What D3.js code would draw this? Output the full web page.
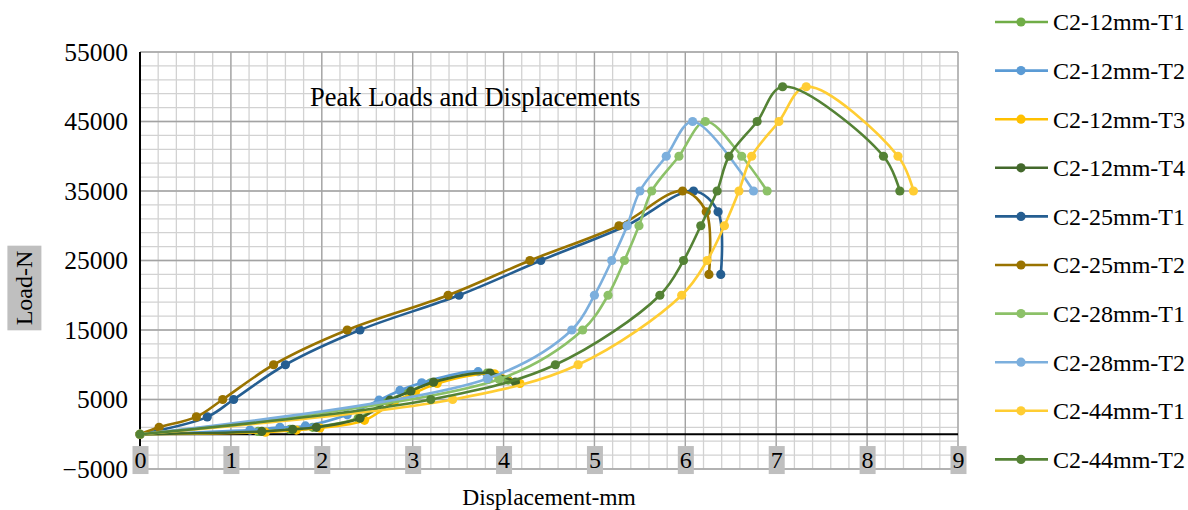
<!DOCTYPE html>
<html>
<head>
<meta charset="utf-8">
<script src="https://cdn.jsdelivr.net/npm/d3@7"></script>
<style>
  html, body { margin: 0; padding: 0; background: #fff; }
  svg { display: block; font-family: "Liberation Serif", "Times New Roman", serif; }
  .axis .domain { display: none; }
  .axis line { display: none; }
</style>
</head>
<body>
<div id="chart"></div>
<script>
// Series names (legend order = draw order)
const seriesNames = [
  'C2-12mm-T1', 'C2-12mm-T2', 'C2-12mm-T3', 'C2-12mm-T4',
  'C2-25mm-T1', 'C2-25mm-T2', 'C2-28mm-T1', 'C2-28mm-T2',
  'C2-44mm-T1', 'C2-44mm-T2'
];
const seriesColors = [
  '#70AD47', '#5B9BD5', '#FFC000', '#43682B',
  '#255E91', '#997300', '#8CC168', '#7CAFDD',
  '#FFCD33', '#548235'
];

// displacement (mm) / load (N)
const disp12T1 = [0, 1.30, 1.65, 1.90, 2.40, 2.72, 2.95, 3.20, 3.82, 4.05];
const load12T1 = [0, 400, 700, 1000, 2300, 4800, 6100, 7400, 8800, 7800];
const disp12T2 = [0, 1.21, 1.54, 1.82, 2.28, 2.63, 2.86, 3.10, 3.72, 3.83];
const load12T2 = [0, 600, 1000, 1200, 2800, 4900, 6300, 7400, 9000, 7900];
const disp12T3 = [0, 1.38, 1.72, 1.98, 2.47, 2.80, 3.03, 3.27, 3.90, 4.18];
const load12T3 = [0, 300, 600, 900, 2000, 4700, 6000, 7300, 8700, 7300];
const disp12T4 = [0, 1.34, 1.68, 1.94, 2.42, 2.75, 2.98, 3.23, 3.85, 4.13];
const load12T4 = [0, 400, 700, 1000, 2300, 4900, 6200, 7500, 8800, 7500];
const disp25T1 = [0, 0.74, 1.03, 1.60, 2.42, 3.51, 4.41, 5.35, 6.09, 6.36, 6.39];
const load25T1 = [0, 2500, 5000, 10000, 15000, 20000, 25000, 30000, 35000, 32000, 23000];
const disp25T2 = [0, 0.21, 0.62, 0.91, 1.47, 2.28, 3.39, 4.29, 5.27, 5.97, 6.23, 6.26];
const load25T2 = [0, 1000, 2500, 5000, 10000, 15000, 20000, 25000, 30000, 35000, 32000, 23000];
const disp28T1 = [0, 3.95, 4.87, 5.15, 5.33, 5.49, 5.63, 5.93, 6.22, 6.62, 6.90];
const load28T1 = [0, 7900, 15000, 20000, 25000, 30000, 35000, 40000, 45000, 40000, 35000];
const disp28T2 = [0, 3.82, 4.75, 5.00, 5.19, 5.36, 5.50, 5.79, 6.08, 6.75];
const load28T2 = [0, 8000, 15000, 20000, 25000, 30000, 35000, 40000, 45000, 35000];
const disp44T1 = [0, 3.44, 4.82, 5.96, 6.24, 6.43, 6.59, 6.73, 7.03, 7.33, 8.34, 8.51];
const load44T1 = [0, 5000, 10000, 20000, 25000, 30000, 35000, 40000, 45000, 50000, 40000, 35000];
const disp44T2 = [0, 3.20, 4.57, 5.72, 5.98, 6.17, 6.35, 6.48, 6.79, 7.07, 8.18, 8.36];
const load44T2 = [0, 5000, 10000, 20000, 25000, 30000, 35000, 40000, 45000, 50000, 40000, 35000];

const xTicks = [0, 1, 2, 3, 4, 5, 6, 7, 8, 9];
const yTicks = [-5000, 5000, 15000, 25000, 35000, 45000, 55000];

const title = 'Peak Loads and Displacements';
const xTitle = 'Displacement-mm';
const yTitle = 'Load-N';

const dispArrays = [disp12T1, disp12T2, disp12T3, disp12T4, disp25T1, disp25T2, disp28T1, disp28T2, disp44T1, disp44T2];
const loadArrays = [load12T1, load12T2, load12T3, load12T4, load25T1, load25T2, load28T1, load28T2, load44T1, load44T2];
const series = seriesNames.map((name, i) => ({
  name,
  color: seriesColors[i],
  points: dispArrays[i].map((d, j) => ({ x: d, y: loadArrays[i][j] }))
}));

const W = 1188, H = 510;
const plot = { left: 140, right: 958, top: 52, bottom: 469 };

const svg = d3.select('#chart').append('svg')
  .attr('width', W).attr('height', H);

const x = d3.scaleLinear().domain([0, 9]).range([plot.left, plot.right]);
const y = d3.scaleLinear().domain([-5000, 55000]).range([plot.bottom, plot.top]);

// minor grid
const minorX = d3.range(0, 9.0001, 0.2);
const minorY = d3.range(-5000, 55001, 2000);
svg.append('g')
  .selectAll('line').data(minorX).enter().append('line')
  .attr('x1', d => x(d)).attr('x2', d => x(d))
  .attr('y1', plot.top).attr('y2', plot.bottom)
  .attr('stroke', '#d2d2d2').attr('stroke-width', 1.3);
svg.append('g')
  .selectAll('line').data(minorY).enter().append('line')
  .attr('x1', plot.left).attr('x2', plot.right)
  .attr('y1', d => y(d)).attr('y2', d => y(d))
  .attr('stroke', '#d2d2d2').attr('stroke-width', 1.3);

// major grid
svg.append('g')
  .selectAll('line').data(xTicks).enter().append('line')
  .attr('x1', d => x(d)).attr('x2', d => x(d))
  .attr('y1', plot.top).attr('y2', plot.bottom)
  .attr('stroke', '#a3a3a3').attr('stroke-width', 1.3);
svg.append('g')
  .selectAll('line').data(yTicks).enter().append('line')
  .attr('x1', plot.left).attr('x2', plot.right)
  .attr('y1', d => y(d)).attr('y2', d => y(d))
  .attr('stroke', '#a3a3a3').attr('stroke-width', 1.3);

// axis lines
svg.append('line')
  .attr('x1', plot.left).attr('x2', plot.left).attr('y1', plot.top).attr('y2', plot.bottom)
  .attr('stroke', '#000').attr('stroke-width', 2);
svg.append('line')
  .attr('x1', plot.left).attr('x2', plot.right).attr('y1', y(0)).attr('y2', y(0))
  .attr('stroke', '#000').attr('stroke-width', 2);

// y tick labels
svg.append('g')
  .attr('class', 'axis')
  .attr('transform', `translate(${plot.left - 12},0)`)
  .call(d3.axisLeft(y).tickValues(yTicks).tickSize(0).tickPadding(0).tickFormat(d3.format('d')))
  .selectAll('text')
  .attr('fill', '#000')
  .style('font-size', '25.5px')
  .style('font-family', '"Liberation Serif", serif');

// x tick labels with grey boxes
const xAxisG = svg.append('g')
  .attr('class', 'axis')
  .attr('transform', `translate(0,${plot.bottom - 18})`)
  .call(d3.axisBottom(x).tickValues(xTicks).tickSize(0).tickPadding(0).tickFormat(d3.format('d')));
xAxisG.selectAll('text')
  .attr('fill', '#000')
  .attr('dy', '0.71em')
  .style('font-size', '24px')
  .style('font-family', '"Liberation Serif", serif');
xAxisG.selectAll('.tick').each(function () {
  const t = d3.select(this);
  const bb = t.select('text').node().getBBox();
  t.insert('rect', 'text')
    .attr('x', bb.x - 2).attr('y', bb.y - 1)
    .attr('width', bb.width + 4).attr('height', bb.height + 2)
    .attr('fill', '#bfbfbf');
});

// lines and markers
const line = d3.line()
  .x(d => x(d.x))
  .y(d => y(d.y))
  .curve(d3.curveCatmullRom.alpha(0.5));

series.forEach(s => {
  svg.append('path')
    .datum(s.points)
    .attr('fill', 'none')
    .attr('stroke', s.color)
    .attr('stroke-width', 2.6)
    .attr('d', line);
  svg.append('g')
    .selectAll('circle').data(s.points).enter().append('circle')
    .attr('cx', d => x(d.x))
    .attr('cy', d => y(d.y))
    .attr('r', 4.6)
    .attr('fill', s.color);
});

// chart title
svg.append('text')
  .attr('x', 310).attr('y', 106)
  .style('font-size', '26.5px')
  .text(title);

// axis titles
svg.append('text')
  .attr('x', 549).attr('y', 505)
  .attr('text-anchor', 'middle')
  .style('font-size', '23.5px')
  .text(xTitle);

const yt = svg.append('g').attr('transform', 'translate(24,288) rotate(-90)');
const ytText = yt.append('text')
  .attr('text-anchor', 'middle')
  .attr('dy', '0.35em')
  .style('font-size', '24px')
  .text(yTitle);
const ybb = ytText.node().getBBox();
yt.insert('rect', 'text')
  .attr('x', ybb.x - 5).attr('y', ybb.y - 4)
  .attr('width', ybb.width + 10).attr('height', ybb.height + 8)
  .attr('fill', '#bfbfbf');

// legend
const legend = svg.append('g');
series.forEach((s, i) => {
  const ly = 22 + i * 48.6;
  const g = legend.append('g').attr('transform', `translate(0,${ly})`);
  g.append('line')
    .attr('x1', 995).attr('x2', 1048)
    .attr('stroke', s.color).attr('stroke-width', 2.6);
  g.append('circle').attr('cx', 1021).attr('r', 4.6).attr('fill', s.color);
  g.append('text')
    .attr('x', 1053).attr('dy', '0.35em')
    .style('font-size', '24px')
    .text(s.name);
});
</script>
</body>
</html>
